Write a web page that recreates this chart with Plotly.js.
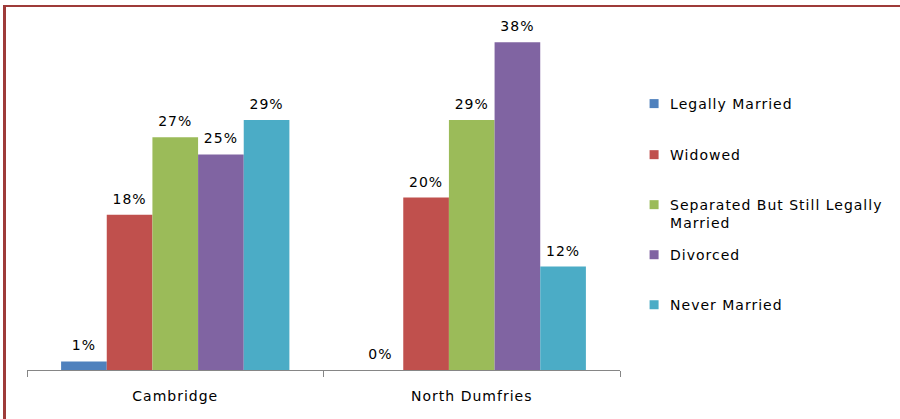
<!DOCTYPE html>
<html>
<head>
<meta charset="utf-8">
<script src="https://cdn.plot.ly/plotly-3.0.1.min.js"></script>
<style>
  html, body { margin: 0; padding: 0; background: #fff; }
  #wrap { position: relative; width: 900px; height: 419px; }
  #chart { position: absolute; left: 0; top: 0; width: 900px; height: 419px; }
  #frame { position: absolute; left: 3px; top: 5px; width: 897px; height: 414px;
           border-top: 2px solid #9e3b39; border-left: 3px solid #9e3b39;
           box-sizing: border-box; pointer-events: none; }
  #chart svg text { letter-spacing: 1px; }
  #chart .infolayer g[class^="legend"], #chart .infolayer g[class^="legend"] * { clip-path: none !important; }
  #chart .legendpoints path { translate: 9px 0px; scale: 0.75; }
  #chart .bartext { translate: 0px -5px; }
</style>
</head>
<body>
<div id="wrap">
  <div id="chart"></div>
  <div id="frame"></div>
</div>
<script>
const categories = ["Cambridge", "North Dumfries"];
const seriesNames = ["Legally Married", "Widowed", "Separated But Still Legally<br>Married", "Divorced", "Never Married"];
const legallyMarried = [1, 0];
const widowed = [18, 20];
const separated = [27, 29];
const divorced = [25, 38];
const neverMarried = [29, 12];
const colors = ["#4F81BD", "#C0504D", "#9BBB59", "#8064A2", "#4BACC6"];
const legendY = [0.771, 0.623, 0.452, 0.333, 0.188];

const values = [legallyMarried, widowed, separated, divorced, neverMarried];
const font = { family: "DejaVu Sans, sans-serif", size: 14, color: "#000" };

const traces = values.map((v, i) => ({
  type: "bar",
  name: seriesNames[i],
  x: categories,
  y: v,
  marker: { color: colors[i], line: { width: 0 } },
  text: v.map(n => n + "%"),
  textposition: "outside",
  texttemplate: "%{text}",
  textfont: font,
  cliponaxis: false,
  legend: i === 0 ? "legend" : "legend" + (i + 1),
  hoverinfo: "skip"
}));

const layout = {
  width: 900, height: 419,
  margin: { l: 27, r: 280, t: 25, b: 49 },
  paper_bgcolor: "#fff", plot_bgcolor: "#fff",
  barmode: "group",
  bargap: 0.23, bargroupgap: 0,
  font: font,
  xaxis: {
    type: "category",
    showline: true, linecolor: "#868686", linewidth: 1,
    ticks: "outside", tickson: "boundaries", ticklen: 6, tickcolor: "#868686",
    tickfont: font, ticklabelstandoff: 13,
    showgrid: false, zeroline: false, fixedrange: true
  },
  yaxis: { visible: false, range: [0, 40], fixedrange: true, showgrid: false, zeroline: false },
  showlegend: true
};
legendY.forEach((y, i) => {
  const key = i === 0 ? "legend" : "legend" + (i + 1);
  layout[key] = { x: 1.017, xanchor: "left", y: y, yanchor: "middle", font: font,
                  bgcolor: "rgba(0,0,0,0)", borderwidth: 0, valign: "top" };
});

Plotly.newPlot("chart", traces, layout, { displayModeBar: false, staticPlot: true });
</script>
</body>
</html>
